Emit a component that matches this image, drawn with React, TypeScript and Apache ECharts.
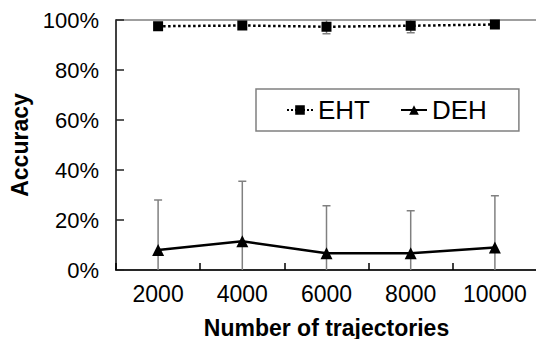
import React, { useEffect, useRef } from "react";
import * as echarts from "echarts";

const categories = ["2000", "4000", "6000", "8000", "10000"];
const ehtValues = [97.5, 97.8, 97.3, 97.7, 98.2];
const ehtErrors = [1.2, 1.5, 2.8, 2.8, 1.0];
const dehValues = [8, 11.5, 6.7, 6.7, 9];
const dehErrors = [20, 24, 19, 17, 20.7];
const yTicks = [0, 20, 40, 60, 80, 100];

const FONT = "'Liberation Sans', Arial, sans-serif";

function errorSeries(name: string, values: number[], errors: number[]) {
  const data = values.map((v, i) => [i, v, errors[i]]);
  return {
    type: "custom",
    name: name + "-err",
    z: 1,
    clip: true,
    silent: true,
    data,
    renderItem: (params: any, api: any) => {
      const i = api.value(0);
      const v = api.value(1);
      const e = api.value(2);
      const lo = Math.max(0, v - e);
      const hi = Math.min(100, v + e);
      const pLo = api.coord([i, lo]);
      const pHi = api.coord([i, hi]);
      const cap = 4;
      const style = { stroke: "#808080", lineWidth: 1.5 };
      const children: any[] = [
        { type: "line", shape: { x1: pLo[0], y1: pLo[1], x2: pHi[0], y2: pHi[1] }, style },
      ];
      if (v - e >= 0) {
        children.push({ type: "line", shape: { x1: pLo[0] - cap, y1: pLo[1], x2: pLo[0] + cap, y2: pLo[1] }, style });
      }
      if (v + e <= 100) {
        children.push({ type: "line", shape: { x1: pHi[0] - cap, y1: pHi[1], x2: pHi[0] + cap, y2: pHi[1] }, style });
      }
      return { type: "group", children };
    },
  };
}

export default function App() {
  const ref = useRef<HTMLDivElement>(null);
  useEffect(() => {
    if (!ref.current) return;
    const chart = echarts.init(ref.current, null, { renderer: "svg" });
    chart.setOption({
      animation: false,
      backgroundColor: "#ffffff",
      textStyle: { fontFamily: FONT, color: "#000" },
      grid: {
        left: 116,
        top: 20,
        right: -1,
        bottom: 69,
        show: true,
        containLabel: false,
        outerBoundsMode: "none",
        borderColor: "#808080",
        borderWidth: 1.5,
        backgroundColor: "transparent",
      },
      legend: {
        left: 256,
        top: 89,
        orient: "horizontal",
        padding: [8, 32, 8, 30],
        itemWidth: 26,
        itemHeight: 12,
        itemGap: 30,
        borderColor: "#808080",
        borderWidth: 1.5,
        backgroundColor: "#fff",
        data: ["EHT", "DEH"],
        textStyle: { fontFamily: FONT, fontSize: 26, color: "#000", padding: [0, 0, 0, 0] },
      },
      xAxis: {
        type: "category",
        data: categories,
        boundaryGap: true,
        name: "Number of trajectories",
        nameLocation: "middle",
        nameGap: 46,
        nameTextStyle: { fontFamily: FONT, fontSize: 23, fontWeight: "bold", color: "#000" },
        axisLine: { show: true, lineStyle: { color: "#000", width: 1.5 } },
        axisTick: { show: true, inside: true, length: 7, lineStyle: { color: "#000", width: 1.5 } },
        axisLabel: { fontFamily: FONT, fontSize: 23, color: "#000", margin: 12 },
        splitLine: { show: false },
      },
      yAxis: {
        type: "value",
        min: yTicks[0],
        max: yTicks[yTicks.length - 1],
        interval: 20,
        name: "Accuracy",
        nameLocation: "middle",
        nameGap: 80,
        nameRotate: 90,
        nameTextStyle: { fontFamily: FONT, fontSize: 23, fontWeight: "bold", color: "#000" },
        axisLine: { show: true, lineStyle: { color: "#222", width: 1.5 } },
        axisTick: { show: true, inside: true, length: 8, lineStyle: { color: "#222", width: 1.5 } },
        axisLabel: { fontFamily: FONT, fontSize: 22, color: "#000", margin: 17, formatter: "{value}%" },
        splitLine: { show: false },
      },
      series: [
        errorSeries("EHT", ehtValues, ehtErrors),
        errorSeries("DEH", dehValues, dehErrors),
        {
          type: "line",
          name: "EHT",
          data: ehtValues,
          z: 3,
          symbol: "rect",
          symbolSize: 10,
          lineStyle: { color: "#000", width: 2.5, type: "dotted" },
          itemStyle: { color: "#000" },
        },
        {
          type: "line",
          name: "DEH",
          data: dehValues,
          z: 3,
          symbol: "triangle",
          symbolSize: 12,
          lineStyle: { color: "#000", width: 2.5, type: "solid" },
          itemStyle: { color: "#000" },
        },
      ],
    });
    return () => chart.dispose();
  }, []);
  return <div ref={ref} style={{ width: 536, height: 339, position: "absolute", left: 0, top: 0 }} />;
}
